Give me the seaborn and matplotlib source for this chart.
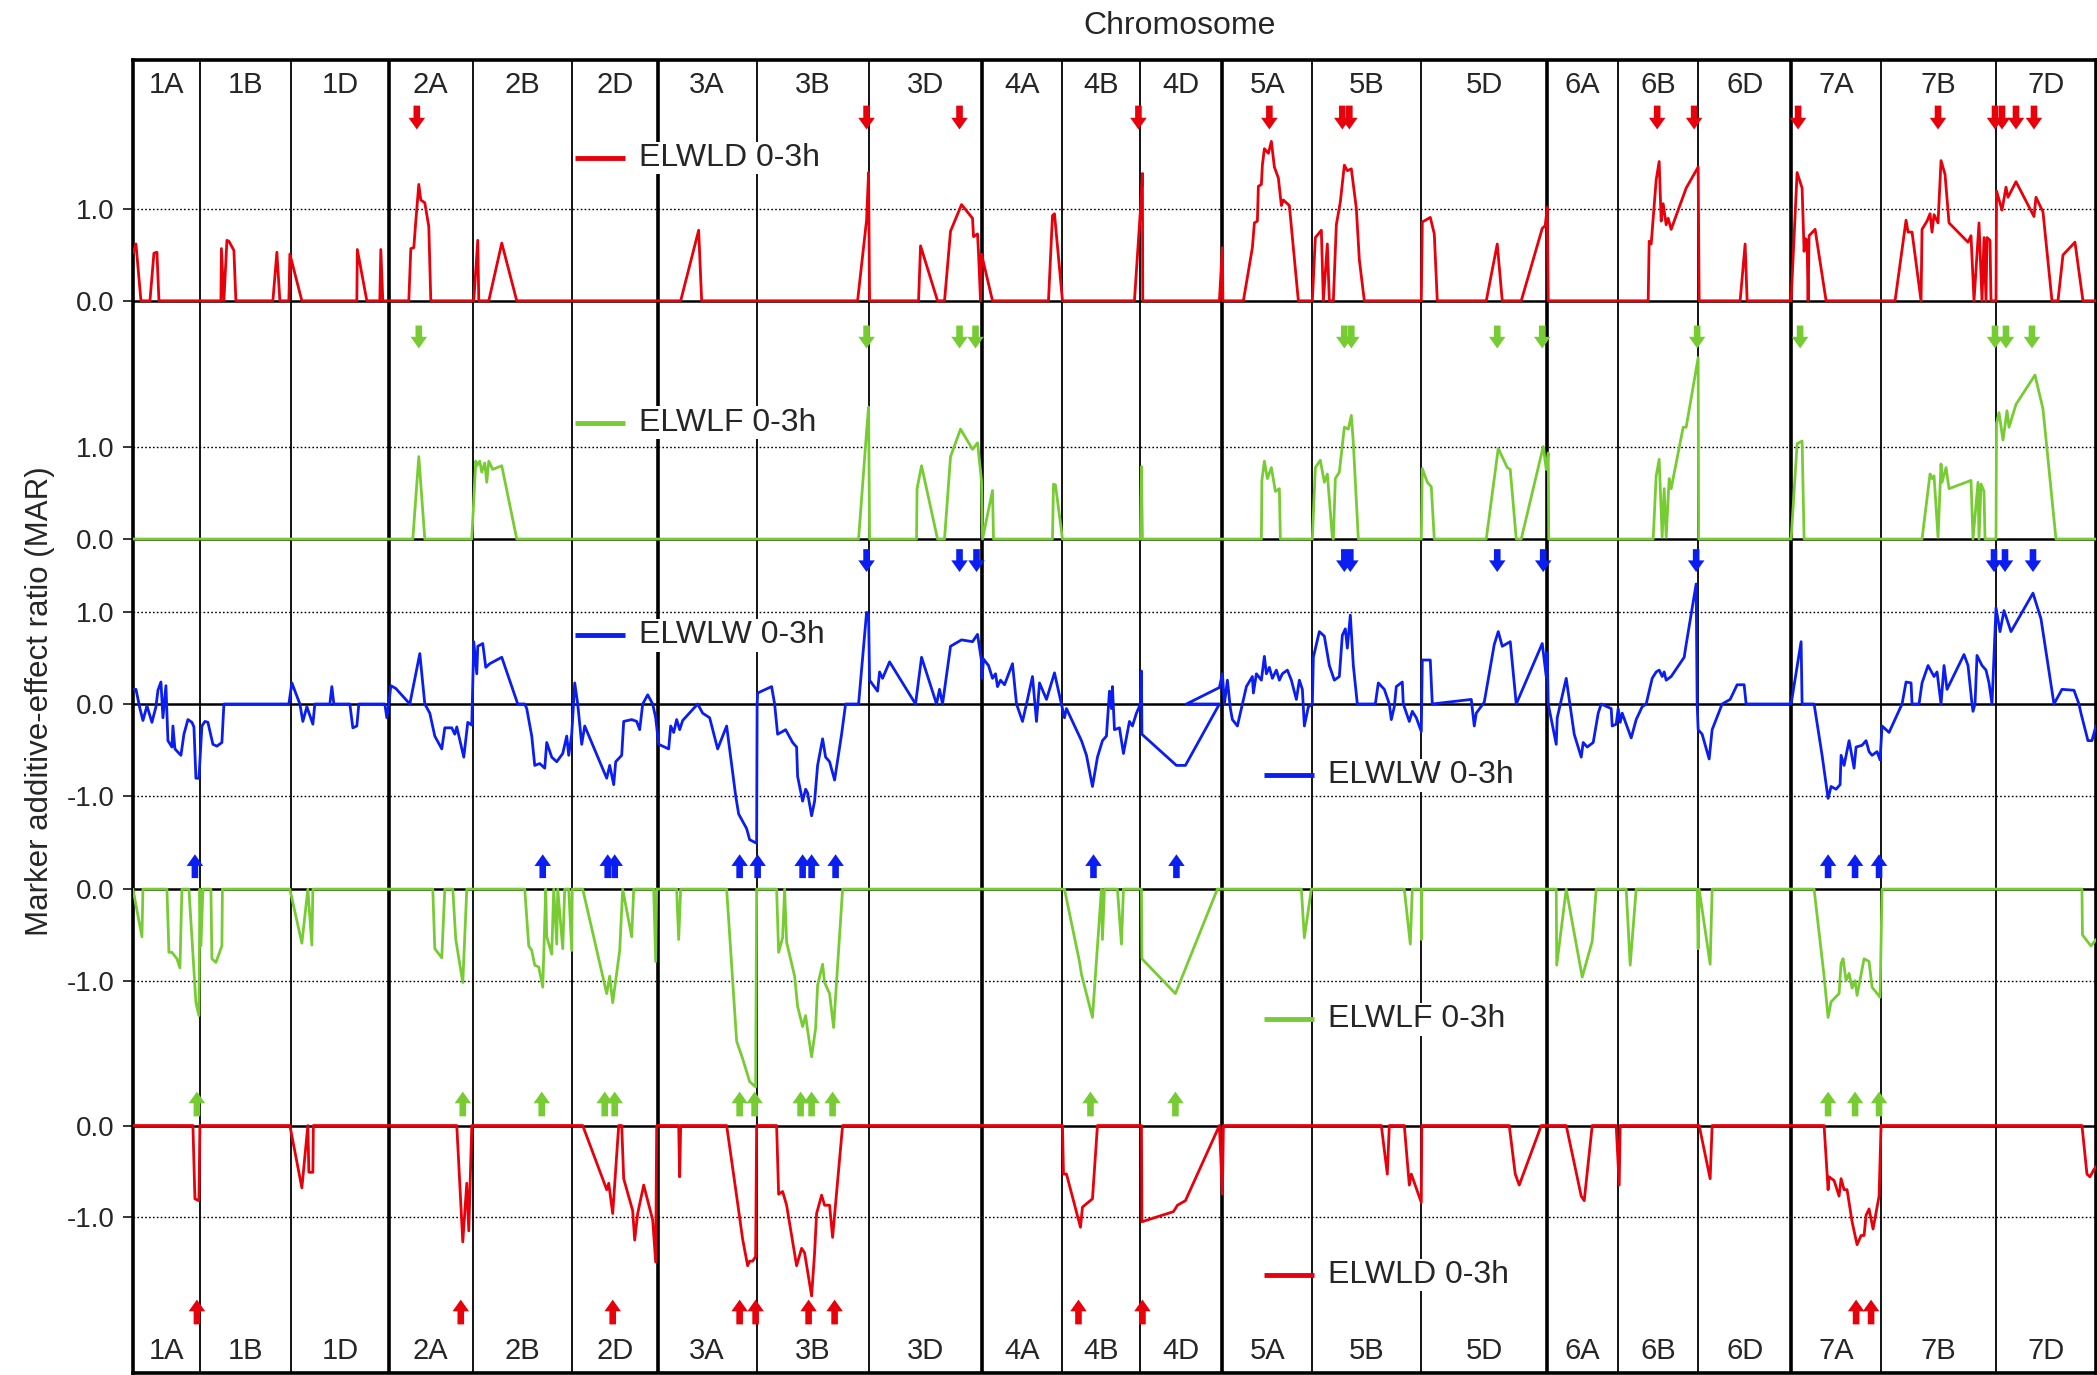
import numpy as np
import pandas as pd
import matplotlib
matplotlib.use("Agg")
import matplotlib.pyplot as plt
import seaborn as sns

# ---- data (positions are cumulative map positions along the genome) ----
chromosomes = ["1A", "1B", "1D", "2A", "2B", "2D", "3A", "3B", "3D", "4A", "4B",
               "4D", "5A", "5B", "5D", "6A", "6B", "6D", "7A", "7B", "7D"]
chrom_len = [67, 91, 98, 84, 99, 86, 99, 112, 113, 81, 78, 82, 90, 109, 126, 71, 80, 93, 90, 115, 100]

# ELWLD 0-3h, positive MAR
elwld_up = [(0, 0.52), (3, 0.62), (8, 0), (17, 0), (21, 0.52), (24, 0.53), (26, 0), (88, 0), (88.5, 0.57),
            (91, 0), (94, 0.66), (96, 0.65), (101, 0.55), (103, 0), (140, 0), (144, 0.53), (147, 0), (156, 0),
            (157, 0.51), (169, 0), (224, 0), (224.5, 0.56), (234, 0), (247, 0), (248, 0.56), (250, 0), (276, 0),
            (278, 0.57), (281, 0.58), (283, 0.87), (286, 1.27), (288, 1.10), (292, 1.07), (296, 0.81), (298, 0),
            (341, 0), (345, 0.66), (346, 0), (356, 0), (369, 0.63), (384, 0), (548, 0), (566, 0.77), (569, 0),
            (725, 0), (734, 0.88), (736, 1.40), (737, 0), (786, 0), (788, 0.60), (805, 0), (812, 0), (818, 0.76),
            (829, 1.05), (840, 0.90), (841, 0.70), (845, 0.73), (846, 0.52), (848, 0), (849, 0.51), (860, 0),
            (916, 0), (919, 0.71), (920, 0.93), (922, 0.95), (930, 0), (1002, 0), (1008, 0.99), (1010, 1.39),
            (1010.3, 0), (1087, 0), (1090, 0.58), (1090.5, 0), (1111, 0), (1120, 0.58), (1122, 0.85),
            (1125, 0.87), (1126, 1.25), (1129, 1.27), (1130, 1.48), (1132, 1.66), (1136, 1.61), (1139, 1.74),
            (1142, 1.46), (1146, 1.34), (1149, 1.04), (1151, 1.10), (1157, 1.04), (1166, 0), (1180, 0),
            (1183, 0.69), (1189, 0.77), (1191, 0), (1195, 0.62), (1197, 0), (1201, 0), (1204, 0.83), (1208, 1.08),
            (1212, 1.48), (1215, 1.42), (1219, 1.44), (1224, 1.01), (1227, 0.45), (1232, 0), (1289, 0),
            (1290, 0.86), (1298, 0.91), (1302, 0.73), (1305, 0), (1354, 0), (1365, 0.62), (1370, 0), (1389, 0),
            (1410, 0.79), (1413, 0.82), (1415, 1.02), (1416, 0), (1516, 0), (1517, 0.65), (1519, 0.62),
            (1524, 1.32), (1527, 1.52), (1529, 0.87), (1531, 1.06), (1534, 0.83), (1536, 0.90), (1539, 0.78),
            (1554, 1.23), (1566, 1.46), (1567, 0), (1608, 0), (1613, 0.62), (1615, 0), (1659, 0), (1665, 1.40),
            (1670, 1.23), (1672, 0.54), (1673, 0.68), (1675, 0.66), (1676, 0), (1677, 0.71), (1683, 0.78),
            (1694, 0), (1763, 0), (1774, 0.88), (1776, 0.75), (1780, 0.75), (1789, 0), (1790, 0.78), (1795, 0.87),
            (1798, 0.95), (1800, 0.75), (1802, 0.94), (1806, 0.85), (1809, 1.53), (1813, 1.38), (1817, 0.85),
            (1836, 0.64), (1839, 0.71), (1842, 0), (1847, 0.85), (1850, 0), (1852, 0.69), (1854, 0), (1855, 0.69),
            (1858, 0.66), (1859, 0), (1864, 0), (1864.5, 1.20), (1870, 0.99), (1874, 1.24), (1876, 1.13),
            (1884, 1.30), (1902, 0.92), (1904, 1.13), (1911, 0.97), (1920, 0), (1926, 0), (1931, 0.50),
            (1943, 0.64), (1951, 0), (1964, 0)]

# ELWLF 0-3h, positive MAR
elwlf_up = [(0, 0), (280, 0), (286, 0.90), (292, 0), (339, 0), (343, 0.85), (344, 0.80), (347, 0.85), (349, 0.73),
            (352, 0.83), (354, 0.62), (356, 0.85), (360, 0.76), (369, 0.80), (384, 0), (726, 0), (734, 1.17),
            (736, 1.44), (737, 0), (784, 0), (784.5, 0.55), (789, 0.80), (805, 0), (812, 0), (818, 0.90),
            (828, 1.20), (840, 0.98), (845, 1.05), (849, 0.64), (850, 0), (860, 0.53), (861, 0), (920, 0),
            (921, 0.60), (923, 0.59), (930, 0), (1008, 0), (1009, 0.79), (1010, 0), (1129, 0), (1129.5, 0.64),
            (1132, 0.85), (1135, 0.66), (1139, 0.78), (1143, 0.52), (1147, 0.55), (1148, 0), (1180, 0),
            (1183, 0.78), (1188, 0.86), (1192, 0.62), (1195, 0.71), (1200, 0.02), (1201, 0), (1203, 0.66),
            (1207, 0.73), (1212, 1.22), (1216, 1.20), (1219, 1.35), (1221, 1.05), (1226, 0), (1289, 0),
            (1290, 0.77), (1295, 0.62), (1299, 0.57), (1302, 0), (1354, 0), (1366, 0.99), (1375, 0.78),
            (1378, 0.76), (1384, 0), (1389, 0), (1411, 1.01), (1414, 0.76), (1416, 0.94), (1416.5, 0), (1521, 0),
            (1524, 0.69), (1527, 0.87), (1530, 0.02), (1532, 0.55), (1534, 0.02), (1537, 0.66), (1539, 0.55),
            (1551, 1.22), (1554, 1.22), (1566, 1.98), (1566.5, 0), (1659, 0), (1665, 1.04), (1670, 1.07),
            (1672, 0), (1790, 0), (1798, 0.71), (1800, 0.66), (1802, 0.69), (1806, 0.02), (1809, 0.82),
            (1810, 0.62), (1814, 0.78), (1817, 0.55), (1839, 0.64), (1841, 0), (1846, 0.62), (1847, 0),
            (1849, 0.60), (1852, 0.52), (1853, 0), (1864, 0), (1864.5, 1.26), (1867, 1.38), (1871, 1.08),
            (1875, 1.40), (1877, 1.22), (1884, 1.47), (1903, 1.79), (1911, 1.42), (1924, 0), (1964, 0)]

# ELWLW 0-3h, positive and negative MAR
elwlw = [(0, 0.16), (3, 0.16), (7, -0.05), (10, -0.18), (14, -0.02), (19, -0.2), (23, -0.03), (25, 0.15),
         (28, 0.24), (30, -0.15), (33, 0.2), (35, -0.40), (39, -0.47), (40, -0.24), (42, -0.49), (48, -0.56),
         (51, -0.33), (55, -0.17), (59, -0.2), (61, -0.25), (63, -0.81), (66, -0.81), (69, -0.24), (72, -0.19),
         (75, -0.2), (80, -0.44), (84, -0.46), (89, -0.42), (91, 0.0), (156, 0.0), (159, 0.23), (167, 0.0),
         (170, -0.19), (174, -0.03), (180, -0.22), (182, 0.0), (197, 0.0), (199, 0.19), (201, 0.0), (217, 0.0),
         (220, -0.26), (224, -0.24), (226, 0.0), (252, 0.0), (254, -0.15), (256, 0.0), (258, 0.2), (263, 0.17),
         (277, 0.0), (287, 0.55), (292, 0.0), (297, -0.1), (302, -0.35), (309, -0.49), (312, -0.26),
         (319, -0.26), (322, -0.33), (324, -0.25), (331, -0.58), (335, -0.2), (339, -0.23), (341, 0.68),
         (344, 0.33), (345, 0.63), (350, 0.66), (353, 0.40), (357, 0.44), (369, 0.51), (385, 0.0), (392, 0.0),
         (394, -0.05), (399, -0.35), (402, -0.67), (407, -0.65), (412, -0.70), (414, -0.42), (419, -0.58),
         (424, -0.63), (430, -0.54), (434, -0.35), (436, -0.56), (439, -0.33), (442, 0.23), (445, 0.0),
         (449, -0.44), (452, -0.24), (474, -0.81), (477, -0.67), (481, -0.88), (483, -0.63), (489, -0.56),
         (491, -0.19), (499, -0.17), (504, -0.19), (507, -0.28), (510, 0.0), (515, 0.1), (520, 0.0),
         (523, -0.15), (526, -0.44), (536, -0.49), (538, -0.24), (541, -0.31), (544, -0.17), (547, -0.28),
         (550, -0.18), (565, 0.0), (570, -0.1), (577, -0.15), (585, -0.49), (594, -0.24), (603, -1.0),
         (606, -1.2), (614, -1.36), (617, -1.48), (624, -1.52), (624.5, 0.0), (625, 0.12), (639, 0.19),
         (642, 0.0), (645, -0.33), (650, -0.30), (653, -0.28), (660, -0.42), (664, -0.47), (665, -0.79),
         (670, -1.06), (673, -0.93), (675, -0.97), (679, -1.22), (682, -1.06), (685, -0.67), (690, -0.38),
         (693, -0.58), (697, -0.63), (702, -0.83), (709, -0.33), (713, 0.0), (726, 0.0), (734, 1.0),
         (736, 0.98), (737, 0.26), (745, 0.14), (747, 0.35), (750, 0.28), (757, 0.46), (783, 0.0), (789, 0.51),
         (804, 0.0), (807, 0.16), (810, 0.0), (818, 0.63), (829, 0.70), (840, 0.68), (845, 0.76), (849, 0.47),
         (849.5, 0.28), (851, 0.49), (856, 0.42), (860, 0.28), (863, 0.33), (865, 0.19), (868, 0.26),
         (872, 0.21), (880, 0.44), (884, 0.0), (890, -0.19), (894, 0.0), (900, 0.30), (904, -0.19), (907, 0.23),
         (914, 0.05), (922, 0.34), (929, 0.0), (932, -0.15), (934, -0.05), (949, -0.40), (954, -0.56),
         (960, -0.90), (965, -0.58), (970, -0.40), (974, -0.35), (977, 0.14), (979, -0.05), (980, 0.19),
         (982, -0.28), (987, -0.26), (991, -0.54), (997, -0.19), (1000, -0.24), (1004, -0.1), (1008, 0.0),
         (1009, 0.36), (1009.5, -0.33), (1044, -0.67), (1053, -0.67), (1087, 0.0), (1054, 0.0), (1087, 0.18),
         (1090, 0.33), (1092, 0.0), (1095, 0.26), (1098, -0.05), (1100, -0.17), (1105, -0.24), (1109, -0.05),
         (1114, 0.19), (1120, 0.30), (1121, 0.12), (1124, 0.33), (1129, 0.26), (1132, 0.52), (1134, 0.33),
         (1137, 0.40), (1140, 0.28), (1144, 0.37), (1147, 0.26), (1150, 0.33), (1155, 0.37), (1159, 0.26),
         (1164, 0.05), (1167, 0.26), (1170, 0.16), (1172, -0.24), (1176, -0.03), (1180, 0.0), (1181, 0.51),
         (1187, 0.79), (1192, 0.74), (1197, 0.42), (1202, 0.26), (1207, 0.30), (1210, 0.75), (1213, 0.82),
         (1215, 0.61), (1218, 0.97), (1221, 0.42), (1225, 0.0), (1243, 0.0), (1246, 0.23), (1252, 0.16),
         (1257, 0.0), (1259, -0.17), (1262, -0.03), (1264, 0.19), (1270, 0.24), (1271, 0.0), (1277, -0.19),
         (1280, -0.08), (1284, -0.15), (1289, -0.30), (1290, 0.48), (1298, 0.48), (1300, 0.0), (1339, 0.05),
         (1342, -0.24), (1344, -0.1), (1352, 0.02), (1362, 0.65), (1366, 0.79), (1370, 0.63), (1378, 0.68),
         (1384, 0.0), (1410, 0.66), (1414, 0.30), (1415, 0.56), (1416, 0.0), (1424, -0.44), (1425, -0.15),
         (1434, 0.28), (1442, -0.33), (1449, -0.58), (1451, -0.42), (1455, -0.47), (1461, -0.42),
         (1466, -0.10), (1469, 0.0), (1479, -0.05), (1480, -0.24), (1484, -0.22), (1486, -0.05), (1488, -0.2),
         (1490, -0.1), (1499, -0.37), (1504, -0.17), (1510, -0.03), (1514, 0.0), (1520, 0.28), (1524, 0.35),
         (1527, 0.37), (1530, 0.30), (1532, 0.35), (1534, 0.26), (1539, 0.30), (1552, 0.51), (1554, 0.65),
         (1564, 1.31), (1565, 0.0), (1566, -0.28), (1570, -0.33), (1577, -0.60), (1580, -0.28), (1590, 0.0),
         (1598, 0.05), (1605, 0.21), (1612, 0.21), (1614, 0.0), (1659, 0.0), (1669, 0.68), (1670, 0.0),
         (1682, 0.0), (1690, -0.56), (1696, -1.03), (1699, -0.90), (1704, -0.93), (1708, -0.88), (1709, -0.56),
         (1712, -0.67), (1717, -0.40), (1722, -0.70), (1724, -0.47), (1730, -0.45), (1734, -0.40),
         (1737, -0.52), (1740, -0.56), (1745, -0.52), (1748, -0.61), (1750, -0.24), (1757, -0.31), (1770, 0.0),
         (1774, 0.24), (1779, 0.23), (1780, 0.0), (1787, 0.0), (1790, 0.23), (1796, 0.42), (1802, 0.30),
         (1805, 0.35), (1809, 0.0), (1812, 0.42), (1815, 0.16), (1832, 0.54), (1836, 0.42), (1840, 0.0),
         (1841, -0.08), (1843, 0.0), (1845, 0.53), (1850, 0.42), (1854, 0.37), (1857, 0.23), (1860, 0.0),
         (1864, 1.05), (1868, 0.79), (1872, 1.02), (1879, 0.79), (1901, 1.21), (1909, 0.93), (1922, 0.0),
         (1930, 0.16), (1942, 0.15), (1947, 0.0), (1949, -0.1), (1956, -0.40), (1960, -0.40), (1964, -0.24)]

# ELWLF 0-3h, negative MAR
elwlf_down = [(0, 0), (9, -0.52), (10, 0), (34, 0), (36, -0.69), (39, -0.69), (44, -0.76), (47, -0.86), (49, 0),
              (56, 0), (63, -1.24), (66, -1.38), (67, 0), (68, -0.62), (70, 0), (78, 0), (79, -0.76), (83, -0.80),
              (89, -0.62), (89.5, 0), (157, 0), (169, -0.59), (175, 0), (179, -0.61), (180, 0), (300, 0),
              (302, -0.65), (309, -0.75), (312, 0), (320, 0), (323, -0.55), (330, -1.02), (334, 0), (392, 0),
              (396, -0.62), (399, -0.67), (402, -0.83), (406, -0.85), (410, -1.07), (413, 0), (414, -0.52),
              (419, -0.71), (421, 0), (424, -0.60), (425, 0), (430, -0.65), (432, 0), (436, 0), (439, -0.67),
              (439.5, 0), (450, 0), (474, -1.14), (477, -0.95), (480, -1.24), (487, -0.67), (490, 0), (499, -0.52),
              (501, 0), (521, 0), (523, -0.79), (524, 0), (544, 0), (546, -0.55), (548, 0), (594, 0), (604, -1.66),
              (610, -1.85), (617, -2.10), (623, -2.16), (624, 0), (644, 0), (646, -0.69), (650, -0.53), (652, 0),
              (654, -0.58), (662, -0.95), (665, -1.28), (670, -1.50), (673, -1.38), (675, -1.54), (679, -1.83),
              (683, -1.52), (685, -1.05), (690, -0.82), (692, -1.02), (697, -1.14), (701, -1.51), (710, 0),
              (932, 0), (947, -0.79), (949, -0.93), (960, -1.40), (969, 0), (970, -0.55), (972, 0), (985, 0),
              (989, -0.60), (991, 0), (1009, 0), (1009.5, -0.76), (1043, -1.14), (1085, 0), (1169, 0),
              (1172, -0.53), (1179, 0), (1272, 0), (1278, -0.60), (1280, 0), (1289, 0), (1289.2, -0.55),
              (1289.5, 0), (1424, 0), (1424.5, -0.83), (1434, 0), (1450, -0.96), (1460, -0.57), (1464, 0),
              (1494, 0), (1498, -0.83), (1504, 0), (1565, 0), (1566, -0.65), (1567, 0), (1578, -0.82), (1580, 0),
              (1682, 0), (1692, -0.95), (1696, -1.40), (1699, -1.23), (1707, -1.14), (1709, -0.81), (1711, -0.76),
              (1714, -1.00), (1717, -0.92), (1720, -1.08), (1723, -1.00), (1725, -1.16), (1732, -0.76),
              (1737, -0.79), (1740, -1.07), (1748, -1.18), (1750, 0), (1950, 0), (1950.5, -0.50), (1959, -0.62),
              (1964, -0.55)]

# ELWLD 0-3h, negative MAR
elwld_down = [(0, 0), (60, 0), (62, -0.80), (66, -0.82), (67, 0), (157, 0), (169, -0.68), (175, 0), (176, -0.51),
              (180, -0.51), (180.5, 0), (324, 0), (330, -1.27), (334, -0.63), (336, -1.15), (339, 0), (450, 0),
              (474, -0.70), (476, -0.63), (480, -0.96), (486, 0), (489, 0), (491, -0.58), (500, -0.93),
              (502, -1.25), (505, -0.96), (511, -0.65), (520, -1.03), (523, -1.49), (524, 0), (546, 0),
              (547, -0.56), (548, 0), (594, 0), (604, -0.77), (610, -1.24), (615, -1.53), (617, -1.48),
              (620, -1.48), (623, -1.43), (624, 0), (644, 0), (646, -0.75), (650, -0.72), (654, -0.87),
              (659, -1.2), (664, -1.53), (669, -1.34), (672, -1.39), (679, -1.86), (682, -1.39), (684, -0.96),
              (689, -0.76), (692, -0.87), (697, -0.87), (700, -1.22), (710, 0), (930, 0), (931, -0.53),
              (934, -0.53), (948, -1.11), (950, -0.89), (960, -0.80), (965, 0), (1009, 0), (1009.5, -1.05),
              (1041, -0.94), (1045, -0.87), (1053, -0.82), (1087, 0), (1090, -0.75), (1091, 0), (1249, 0),
              (1255, -0.53), (1257, 0), (1272, 0), (1277, -0.65), (1279, -0.53), (1289, -0.84), (1289.5, 0),
              (1377, 0), (1383, -0.53), (1387, -0.65), (1409, 0), (1434, 0), (1449, -0.77), (1452, -0.82),
              (1460, 0), (1484, 0), (1487, -0.65), (1488, 0), (1567, 0), (1578, -0.58), (1580, 0), (1692, 0),
              (1696, -0.70), (1697, -0.56), (1702, -0.60), (1707, -0.77), (1709, -0.58), (1712, -0.70),
              (1715, -0.70), (1720, -1.05), (1725, -1.30), (1729, -1.20), (1732, -1.20), (1734, -0.98),
              (1737, -0.91), (1741, -1.13), (1747, -0.77), (1749, 0), (1950, 0), (1955, -0.53), (1958, -0.56),
              (1962, -0.48), (1964, -0.45)]

# QTL positions (arrows)
qtl_elwld_up = [284, 734, 827, 1006, 1137, 1210, 1217, 1525, 1562, 1666, 1806, 1863, 1870, 1884, 1902]
qtl_elwlf_up = [286, 734, 827, 843, 1212, 1219, 1365, 1410, 1565, 1668, 1863, 1874, 1900]
qtl_elwlw_up = [734, 827, 844, 1212, 1218, 1365, 1411, 1564, 1862, 1873, 1901]
qtl_elwlw_down = [62, 410, 475, 482, 607, 625, 670, 679, 703, 961, 1044, 1696, 1723, 1747]
qtl_elwlf_down = [64, 330, 409, 472, 482, 607, 622, 668, 679, 700, 958, 1043, 1696, 1723, 1747]
qtl_elwld_down = [64, 328, 480, 607, 623, 676, 702, 946, 1010, 1724, 1739]

# ---- layout / style ----
RED, GREEN, BLUE = "#E8000B", "#77CC33", "#0A1EF2"
base_d_up, base_f_up, base_w, base_f_dn, base_d_dn = 4.40, 1.80, 0.0, -2.02, -4.60

sns.set_style("white")
plt.rcParams["font.family"] = ["Liberation Sans", "DejaVu Sans"]

fig = plt.figure(figsize=(20.97, 13.75), dpi=100)
ax = fig.add_axes([0.0634, 0.0015, 0.9361, 0.955])

edges = np.concatenate([[0], np.cumsum(chrom_len)])
total = edges[-1]

# chromosome separators
for i, e in enumerate(edges[1:-1], start=1):
    ax.axvline(e, color="black", lw=2.6 if i % 3 == 0 else 1.3, zorder=1)

# dotted unit lines and zero lines
for y in [base_d_up + 1, base_f_up + 1, base_w + 1, base_w - 1, base_f_dn - 1, base_d_dn - 1]:
    ax.axhline(y, color="black", lw=1.0, ls=(0, (1.2, 1.6)), zorder=1)
for y in [base_d_up, base_f_up, base_w, base_f_dn, base_d_dn]:
    ax.axhline(y, color="black", lw=1.8, zorder=2)

series = [(elwld_up, base_d_up, RED), (elwlf_up, base_f_up, GREEN), (elwlw, base_w, BLUE),
          (elwlf_down, base_f_dn, GREEN), (elwld_down, base_d_dn, RED)]
for pts, base, col in series:
    df = pd.DataFrame(pts, columns=["pos", "mar"])
    df["y"] = df["mar"] + base
    sns.lineplot(data=df, x="pos", y="y", sort=False, estimator=None, color=col, lw=2.0, ax=ax, zorder=3)

# QTL arrows
arrow_sets = [(qtl_elwld_up, base_d_up + 2.13, base_d_up + 1.87, RED),
              (qtl_elwlf_up, base_f_up + 2.33, base_f_up + 2.08, GREEN),
              (qtl_elwlw_up, base_w + 1.69, base_w + 1.44, BLUE),
              (qtl_elwlw_down, base_w - 1.90, base_w - 1.64, BLUE),
              (qtl_elwlf_down, base_f_dn - 2.48, base_f_dn - 2.21, GREEN),
              (qtl_elwld_down, base_d_dn - 2.17, base_d_dn - 1.90, RED)]
for xs, y0, y1, col in arrow_sets:
    for x in xs:
        ax.annotate("", xy=(x, y1), xytext=(x, y0),
                    arrowprops=dict(arrowstyle="simple,head_width=0.85,head_length=0.6,tail_width=0.34",
                                    color=col, lw=0, mutation_scale=14, shrinkA=0, shrinkB=0), zorder=4)

# series labels
labels = [("ELWLD 0-3h", RED, 442, 5.96), ("ELWLF 0-3h", GREEN, 442, 3.07), ("ELWLW 0-3h", BLUE, 442, 0.75),
          ("ELWLW 0-3h", BLUE, 1132, -0.78), ("ELWLF 0-3h", GREEN, 1132, -3.44), ("ELWLD 0-3h", RED, 1132, -6.23)]
for txt, col, x0, y in labels:
    ax.plot([x0, x0 + 50], [y, y], color=col, lw=3.5, solid_capstyle="butt", zorder=5)
    ax.text(x0 + 64, y, txt, fontsize=23, va="center", ha="left", zorder=5,
            bbox=dict(facecolor="white", edgecolor="none", pad=1))

# chromosome names top and bottom
centers = (edges[:-1] + edges[1:]) / 2
for c, name in zip(centers, chromosomes):
    ax.text(c, 6.76, name, fontsize=21, ha="center", va="center", zorder=5)
    ax.text(c, -7.06, name, fontsize=21, ha="center", va="center", zorder=5)

ax.set_xlim(0, total)
ax.set_ylim(-7.30, 7.03)
ax.set_xticks([])
ytick_pos = [base_d_up + 1, base_d_up, base_f_up + 1, base_f_up, base_w + 1, base_w, base_w - 1,
             base_f_dn, base_f_dn - 1, base_d_dn, base_d_dn - 1]
ytick_lab = ["1.0", "0.0", "1.0", "0.0", "1.0", "0.0", "-1.0", "0.0", "-1.0", "0.0", "-1.0"]
ax.set_yticks(ytick_pos)
ax.set_yticklabels(ytick_lab, fontsize=20)
ax.tick_params(axis="y", direction="out", length=7, width=1.3, left=True, pad=6)
ax.set_xlabel("")
ax.set_ylabel("")
for s in ax.spines.values():
    s.set_visible(True)
    s.set_color("black")
    s.set_linewidth(2.6)

fig.text(0.5627, 0.981, "Chromosome", fontsize=23, ha="center", va="center")
fig.text(0.019, 0.49, "Marker additive-effect ratio (MAR)", fontsize=22.5, rotation=90,
         ha="center", va="center")

fig.savefig("out.png", dpi=100)
